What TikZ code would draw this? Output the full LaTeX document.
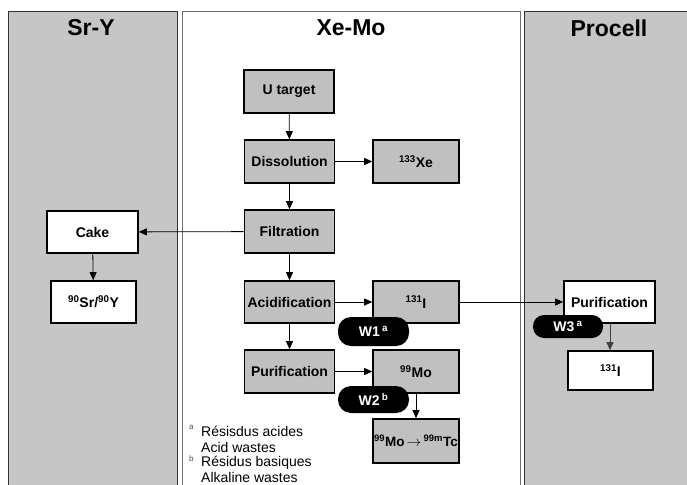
\documentclass[tikz,border=0pt]{standalone}
\usepackage{fontspec}
\setmainfont{Liberation Sans}
\usetikzlibrary{arrows.meta}
\definecolor{pan}{RGB}{198,198,198}
\definecolor{boxg}{RGB}{192,192,192}
\definecolor{panborder}{RGB}{110,110,110}
\tikzset{
  panel/.style={draw=panborder, line width=1pt},
  ptitle/.style={font=\fontsize{23}{26}\selectfont\bfseries},
  gbox/.style={draw=black, line width=1.6pt, fill=boxg, inner sep=0pt,
     minimum width=90pt, minimum height=43pt, font=\fontsize{14}{16}\selectfont\bfseries},
  wbox/.style={gbox, fill=white},
  pill/.style={fill=black, text=white, rounded corners=13pt, inner sep=0pt,
     minimum width=71pt, minimum height=28pt, font=\fontsize{14}{16}\selectfont\bfseries},
  arr/.style={-{Triangle[length=8pt,width=7pt]}, line width=0.8pt},
  fn/.style={anchor=west, inner sep=0pt, font=\fontsize{14}{16}\selectfont},
  fnsup/.style={anchor=west, inner sep=0pt, font=\fontsize{8}{9}\selectfont, text=black!70}
}
\begin{document}
\begin{tikzpicture}[x=1pt,y=-1pt]
\useasboundingbox (0,0) rectangle (687,484);
\begin{scope}
\clip (0,0) rectangle (687,484);
\fill[white] (0,0) rectangle (687,484);
\draw[panel, fill=pan, draw=black!80] (8,11.5) rectangle (177,495);
\draw[panel, fill=white] (182.5,11.5) rectangle (520,495);
\draw[panel, fill=pan, draw=black!80] (524,11.5) rectangle (700,495);
\end{scope}
\node[ptitle] (t1) at (91,28) {Sr-Y};
\node[ptitle] (t2) at (351,28) {Xe-Mo};
\node[ptitle] (t3) at (609,28) {Procell};

\node[gbox] (ut) at (289,91.5) {U target};
\node[gbox] (dis) at (289.5,161.5) {Dissolution};
\node[gbox, minimum width=86pt] (xe) at (416,161.5) {\textsuperscript{133}Xe};
\node[gbox] (fil) at (289.5,231.5) {Filtration};
\node[gbox, minimum height=42pt] (aci) at (289.5,302) {Acidification};
\node[gbox, minimum width=86pt, minimum height=42pt] (ia) at (416,302) {\textsuperscript{131}I};
\node[gbox] (pur) at (289.5,371.5) {Purification};
\node[gbox, minimum width=86pt] (mo) at (416,371.5) {\textsuperscript{99}Mo};
\node[gbox, minimum width=86pt, minimum height=44pt, font=\fontsize{13.5}{15}\selectfont\bfseries] (tc) at (416,441) {\textsuperscript{99}Mo\,$\rightarrow$\,\textsuperscript{99m}Tc};

\node[wbox, minimum width=91pt, minimum height=42pt] (cake) at (92.5,232) {Cake};
\node[wbox, minimum width=85pt, minimum height=42pt] (sry) at (93.5,302) {\textsuperscript{90}Sr/\textsuperscript{90}Y};
\node[wbox, minimum width=91pt, minimum height=42pt] (ppur) at (609.5,302) {Purification};
\node[wbox, minimum width=85pt, minimum height=39pt] (pi) at (610.5,370.5) {\textsuperscript{131}I};

\draw[arr] (ut) -- (dis);
\draw[arr] (dis) -- (xe);
\draw[arr] (dis) -- (fil);
\draw[arr] (fil) -- (cake);
\draw[arr] (cake) -- (sry);
\draw[arr] (fil) -- (aci);
\draw[arr] (aci) -- (ia);
\draw[arr] (aci) -- (pur);
\draw[arr] (pur) -- (mo);
\draw[arr] (mo) -- (tc);
\draw[arr] (ia) -- (ppur);
\draw[arr, draw=black!75, fill=black!75] (ppur.south) ++(0.5,0) coordinate (ps) -- (ps |- pi.north);

\node[pill, minimum height=29pt] (w1) at (373.5,331.5) {W1\,\textsuperscript{a}};
\node[pill, minimum height=27pt] (w2) at (373.5,399.5) {W2\,\textsuperscript{b}};
\node[pill, minimum width=70pt, minimum height=23pt, rounded corners=11pt] (w3) at (568,326.5) {W3\,\textsuperscript{a}};

\node[fnsup] (sa) at (189,427) {a};
\node[fn] (f1) at (201,431) {Résisdus acides};
\node[fn] (f2) at (201,447) {Acid wastes};
\node[fnsup] (sb) at (189,459) {b};
\node[fn] (f3) at (201,463) {Résidus basiques};
\node[fn] (f4) at (201,477) {Alkaline wastes};
\end{tikzpicture}
\end{document}
